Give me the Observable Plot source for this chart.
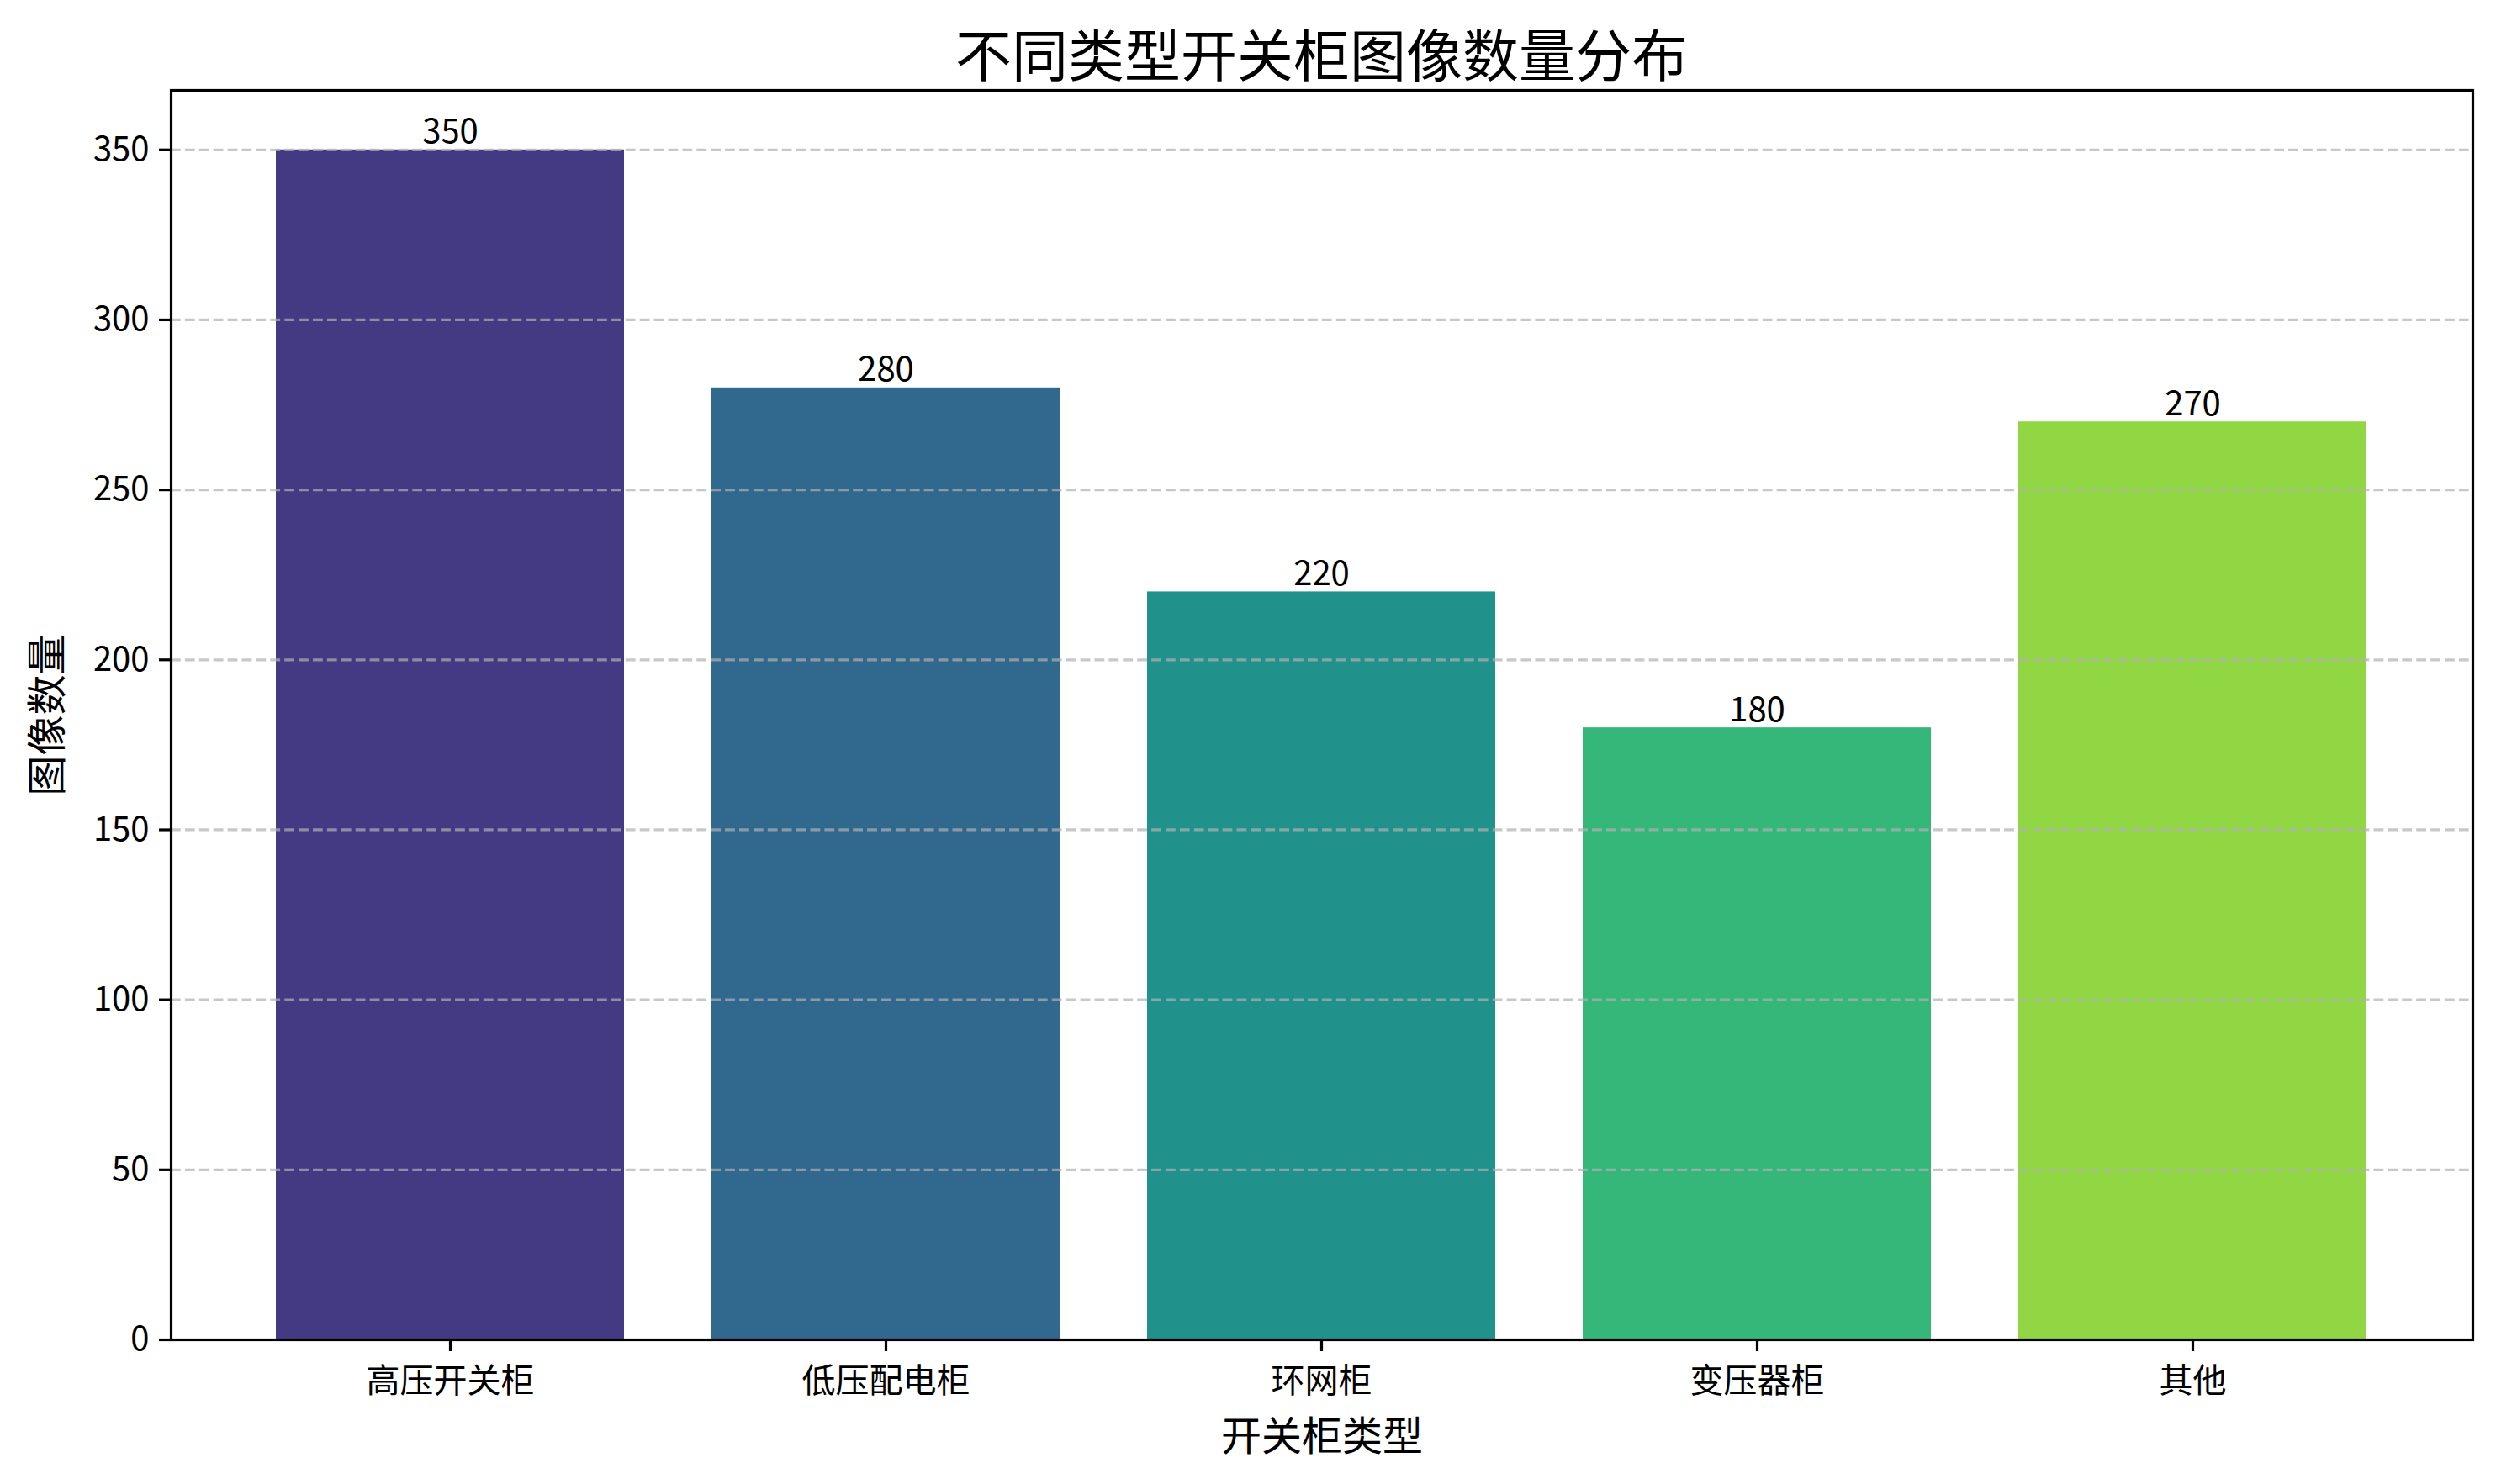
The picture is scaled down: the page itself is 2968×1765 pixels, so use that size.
<!DOCTYPE html>
<html>
<head>
<meta charset="utf-8">
<script src="https://cdn.jsdelivr.net/npm/d3@7"></script>
<script src="https://cdn.jsdelivr.net/npm/@observablehq/plot@0.6"></script>
<style>
  html, body { margin: 0; padding: 0; background: #fff; }
  #title { box-sizing: border-box; width: 2968px; height: 94px; padding-top: 28px; padding-left: 203px; padding-right: 28px;
           text-align: center; font-family: "Noto Sans CJK SC", sans-serif; font-size: 67px; line-height: 67px; color: #000; }
  #title span { display: block; }
</style>
</head>
<body>
<div id="title"><span>不同类型开关柜图像数量分布</span></div>
<div id="chart"></div>
<script>
const categories = ["高压开关柜", "低压配电柜", "环网柜", "变压器柜", "其他"];
const counts = [350, 280, 220, 180, 270];
const colors = ["#443983", "#31688e", "#21918c", "#35b779", "#90d743"];
const yTicks = [0, 50, 100, 150, 200, 250, 300, 350];
const xLabel = "开关柜类型";
const yLabel = "图像数量";

const data = categories.map((c, i) => ({category: c, count: counts[i]}));

const chart = Plot.plot({
  width: 2968,
  height: 1671,
  marginTop: 13,
  marginBottom: 172,
  marginLeft: 203,
  marginRight: 28,
  style: {fontFamily: "'Noto Sans CJK SC', sans-serif", fontSize: "40px", color: "#000", background: "#fff"},
  x: {domain: categories, paddingInner: 0.2, paddingOuter: 0.24, align: 0.5, label: null},
  y: {domain: [0, 367.5], label: null},
  color: {domain: categories, range: colors},
  marks: [
    Plot.barY(data, {x: "category", y: "count", fill: "category"}),
    Plot.gridY(yTicks, {stroke: "#b0b0b0", strokeOpacity: 0.7, strokeWidth: 3.2, strokeDasharray: "11.8,5.1"}),
    Plot.text(data, {x: "category", y: "count", text: d => String(d.count), lineAnchor: "bottom", dy: -8, fontSize: 40, fill: "#000"}),
    Plot.axisX({ticks: categories, tickSize: 14, tickPadding: 20, strokeWidth: 3.2, fontSize: 40, label: null}),
    Plot.axisY({ticks: yTicks, tickSize: 14, tickPadding: 12, strokeWidth: 3.2, fontSize: 40, label: null}),
    Plot.frame({stroke: "#000", strokeWidth: 3.2}),
    Plot.text([yLabel], {frameAnchor: "left", textAnchor: "middle", dx: -146, rotate: -90, fontSize: 48, fill: "#000"}),
    Plot.text([xLabel], {frameAnchor: "bottom", lineAnchor: "middle", dy: 116, fontSize: 48, fill: "#000"})
  ]
});
document.getElementById("chart").appendChild(chart);
</script>
</body>
</html>
